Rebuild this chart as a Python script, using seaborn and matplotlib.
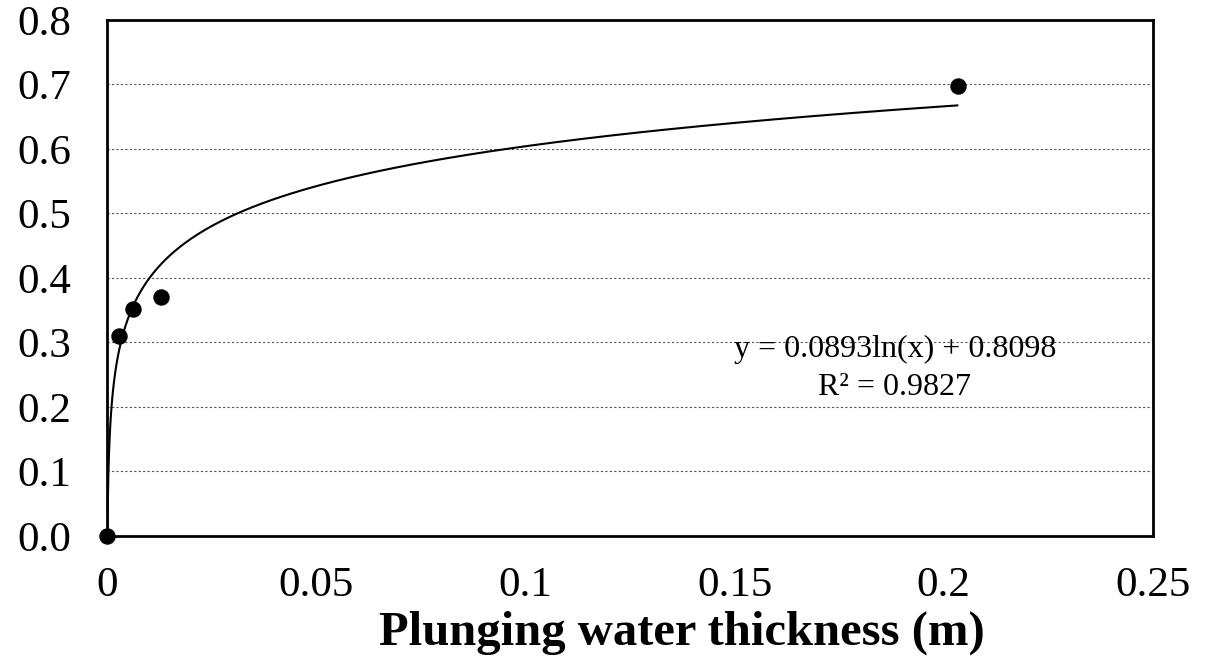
import numpy as np
import pandas as pd
import matplotlib
matplotlib.use('Agg')
import matplotlib.pyplot as plt
import seaborn as sns

# measured points
thickness = [0.0, 0.0029, 0.0062, 0.0129, 0.2033]
values = [0.0, 0.31, 0.352, 0.37, 0.698]

# fitted log trendline shown on the chart
coef_a = 0.0893
coef_b = 0.8098
r2 = 0.9827

x_ticks = [0, 0.05, 0.1, 0.15, 0.2, 0.25]
x_tick_labels = ['0', '0.05', '0.1', '0.15', '0.2', '0.25']
y_ticks = [0.0, 0.1, 0.2, 0.3, 0.4, 0.5, 0.6, 0.7, 0.8]

sns.set_style("white")
plt.rcParams['font.family'] = ['Liberation Serif', 'DejaVu Serif']
plt.rcParams['text.color'] = 'black'
plt.rcParams['axes.labelcolor'] = 'black'

df = pd.DataFrame({'x': thickness, 'y': values})

# trendline from where it crosses zero up to the last point
x_start = np.exp(-coef_b / coef_a)
x_fit = np.logspace(np.log10(x_start), np.log10(max(thickness)), 400)
trend = pd.DataFrame({'x': x_fit, 'y': coef_a * np.log(x_fit) + coef_b})

fig, ax = plt.subplots(figsize=(12.06, 6.65), dpi=100)
fig.subplots_adjust(left=0.0887, right=0.956, top=0.970, bottom=0.194)

for yv in y_ticks[1:-1]:
    ax.axhline(yv, color='#555555', linestyle=(0, (2, 2)), linewidth=0.8, zorder=0)

sns.lineplot(data=trend, x='x', y='y', color='black', linewidth=1.5, ax=ax, sort=False)
sns.scatterplot(data=df, x='x', y='y', color='black', s=140, linewidth=0, ax=ax, zorder=5, clip_on=False)

ax.set_xlim(0, 0.25)
ax.set_ylim(0, 0.8)
ax.set_xticks(x_ticks)
ax.set_xticklabels(x_tick_labels)
ax.set_yticks(y_ticks)
ax.set_yticklabels([f'{v:.1f}' for v in y_ticks])
ax.tick_params(axis='both', direction='in', length=10, width=1.5, labelsize=31, colors='black')
ax.tick_params(axis='x', pad=22)
ax.tick_params(axis='y', pad=26)

for side in ['top', 'right', 'bottom', 'left']:
    ax.spines[side].set_visible(True)
    ax.spines[side].set_color('black')
    ax.spines[side].set_linewidth(2)

ax.set_xlabel('Plunging water thickness (m)', fontsize=35, fontweight='bold', labelpad=4)
ax.xaxis.label.set_x(0.5497)
ax.set_ylabel('')

ax.text(0.1883, 0.2775, f'y = {coef_a}ln(x) + {coef_b}', ha='center', va='baseline', fontsize=23)
ax.text(0.1883, 0.2186, f'R² = {r2}', ha='center', va='baseline', fontsize=23)

plt.savefig('out.png', dpi=100)
